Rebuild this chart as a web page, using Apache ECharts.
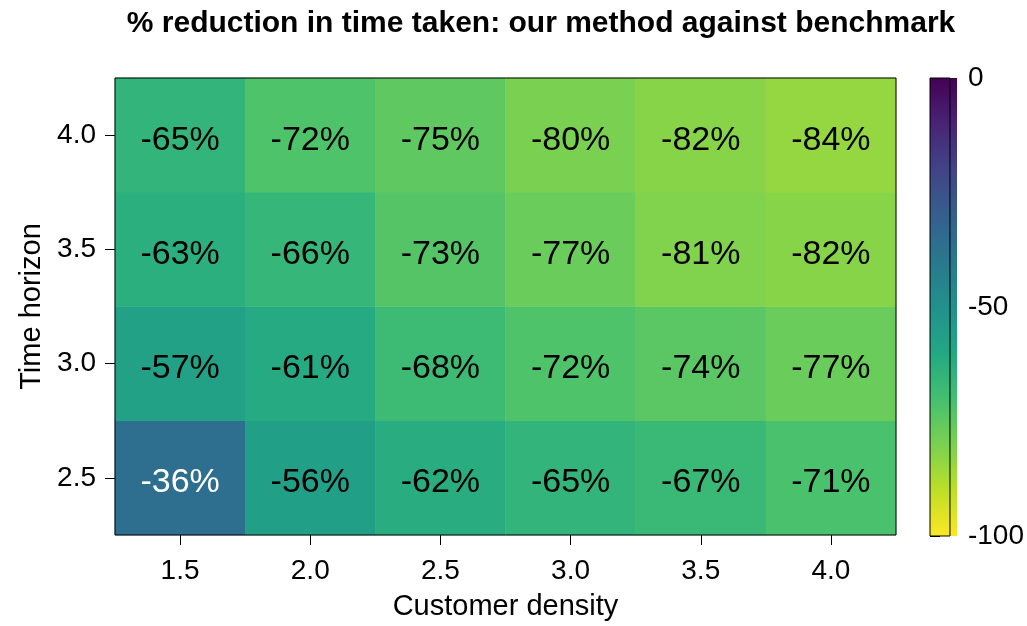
<!DOCTYPE html>
<html>
<head>
<meta charset="utf-8">
<style>
  html, body { margin: 0; padding: 0; background: #fff; }
  #chart { width: 1027px; height: 626px; }
</style>
<script src="https://cdn.jsdelivr.net/npm/echarts@6/dist/echarts.min.js"></script>
</head>
<body>
<div id="chart"></div>
<script>
// Axis categories
const customerDensity = ['1.5', '2.0', '2.5', '3.0', '3.5', '4.0'];
const timeHorizon = ['2.5', '3.0', '3.5', '4.0'];

// % reduction in time taken, one array per time horizon (columns follow customerDensity)
const reductionH25 = [-36, -56, -62, -65, -67, -71];
const reductionH30 = [-57, -61, -68, -72, -74, -77];
const reductionH35 = [-63, -66, -73, -77, -81, -82];
const reductionH40 = [-65, -72, -75, -80, -82, -84];

// Colour bar range and ticks
const colorMin = -100;
const colorMax = 0;
const colorTickStep = 50;

// viridis, dark end first
const viridis = ['#440154', '#482475', '#414487', '#355f8d', '#2a788e', '#21918c',
                 '#22a884', '#44bf70', '#7ad151', '#bddf26', '#fde725'];

const rows = [reductionH25, reductionH30, reductionH35, reductionH40];
const heatData = [];
rows.forEach((row, yi) => {
  row.forEach((v, xi) => {
    heatData.push({
      value: [xi, yi, v],
      // light text on the dark cells
      label: { color: v > -45 ? '#ffffff' : '#000000' }
    });
  });
});

const FONT = '"Liberation Sans", Arial, Helvetica, sans-serif';
const plot = { left: 115, top: 78, width: 781, height: 458 };
const bar = { left: 930, top: 78, width: 27, height: 458 };

const chart = echarts.init(document.getElementById('chart'), null, { renderer: 'canvas' });

chart.setOption({
  animation: false,
  backgroundColor: '#ffffff',
  textStyle: { fontFamily: FONT },
  title: {
    text: '% reduction in time taken: our method against benchmark',
    left: 536, top: 4, textAlign: 'center',
    textStyle: { fontFamily: FONT, fontSize: 30, fontWeight: 'bold', color: '#000' }
  },
  grid: [
    { left: plot.left, top: plot.top, width: plot.width, height: plot.height,
      show: true, borderColor: '#000', borderWidth: 1, backgroundColor: 'transparent', z: 5 },
    { left: bar.left, top: bar.top, width: bar.width, height: bar.height,
      show: true, borderColor: '#000', borderWidth: 1, backgroundColor: 'transparent', z: 5 }
  ],
  xAxis: [
    {
      type: 'category', gridIndex: 0, data: customerDensity,
      name: 'Customer density', nameLocation: 'middle', nameGap: 57,
      nameTextStyle: { fontFamily: FONT, fontSize: 29, color: '#000' },
      axisLine: { show: false },
      axisTick: { show: true, alignWithLabel: true, length: 10, inside: false, lineStyle: { color: '#000' } },
      axisLabel: { fontFamily: FONT, fontSize: 28, color: '#000', margin: 22 },
      splitLine: { show: false }
    },
    {
      type: 'value', gridIndex: 1, show: false, min: 0, max: 1
    }
  ],
  yAxis: [
    {
      type: 'category', gridIndex: 0, data: timeHorizon,
      name: 'Time horizon', nameLocation: 'middle', nameGap: 66,
      nameTextStyle: { fontFamily: FONT, fontSize: 29, color: '#000' },
      axisLine: { show: false },
      axisTick: { show: true, alignWithLabel: true, length: 10, lineStyle: { color: '#000' } },
      axisLabel: { fontFamily: FONT, fontSize: 28, color: '#000', margin: 19, padding: [5, 0, 0, 0] },
      splitLine: { show: false }
    },
    {
      type: 'value', gridIndex: 1, position: 'right',
      min: colorMin, max: colorMax, interval: colorTickStep,
      axisLine: { show: false },
      axisTick: { show: true, length: 10, lineStyle: { color: '#000' } },
      axisLabel: { fontFamily: FONT, fontSize: 28, color: '#000', margin: 18, padding: [5, 0, 0, 0] },
      splitLine: { show: false }
    }
  ],
  visualMap: {
    show: false, type: 'continuous', seriesIndex: 0, dimension: 2,
    min: colorMin, max: colorMax,
    inRange: { color: viridis.slice().reverse() }
  },
  graphic: [
    {
      // colour bar gradient, 0 at the top down to -100
      type: 'rect', z: 1,
      shape: { x: bar.left, y: bar.top, width: bar.width, height: bar.height },
      style: {
        fill: new echarts.graphic.LinearGradient(0, 0, 0, 1,
          viridis.map((c, i) => ({ offset: i / (viridis.length - 1), color: c })))
      }
    }
  ],
  series: [
    {
      type: 'heatmap', xAxisIndex: 0, yAxisIndex: 0,
      data: heatData,
      itemStyle: { borderWidth: 0 },
      label: {
        show: true, fontFamily: FONT, fontSize: 34, offset: [0, 5],
        formatter: p => p.value[2] + '%'
      },
      emphasis: { disabled: true }
    }
  ]
});
</script>
</body>
</html>
